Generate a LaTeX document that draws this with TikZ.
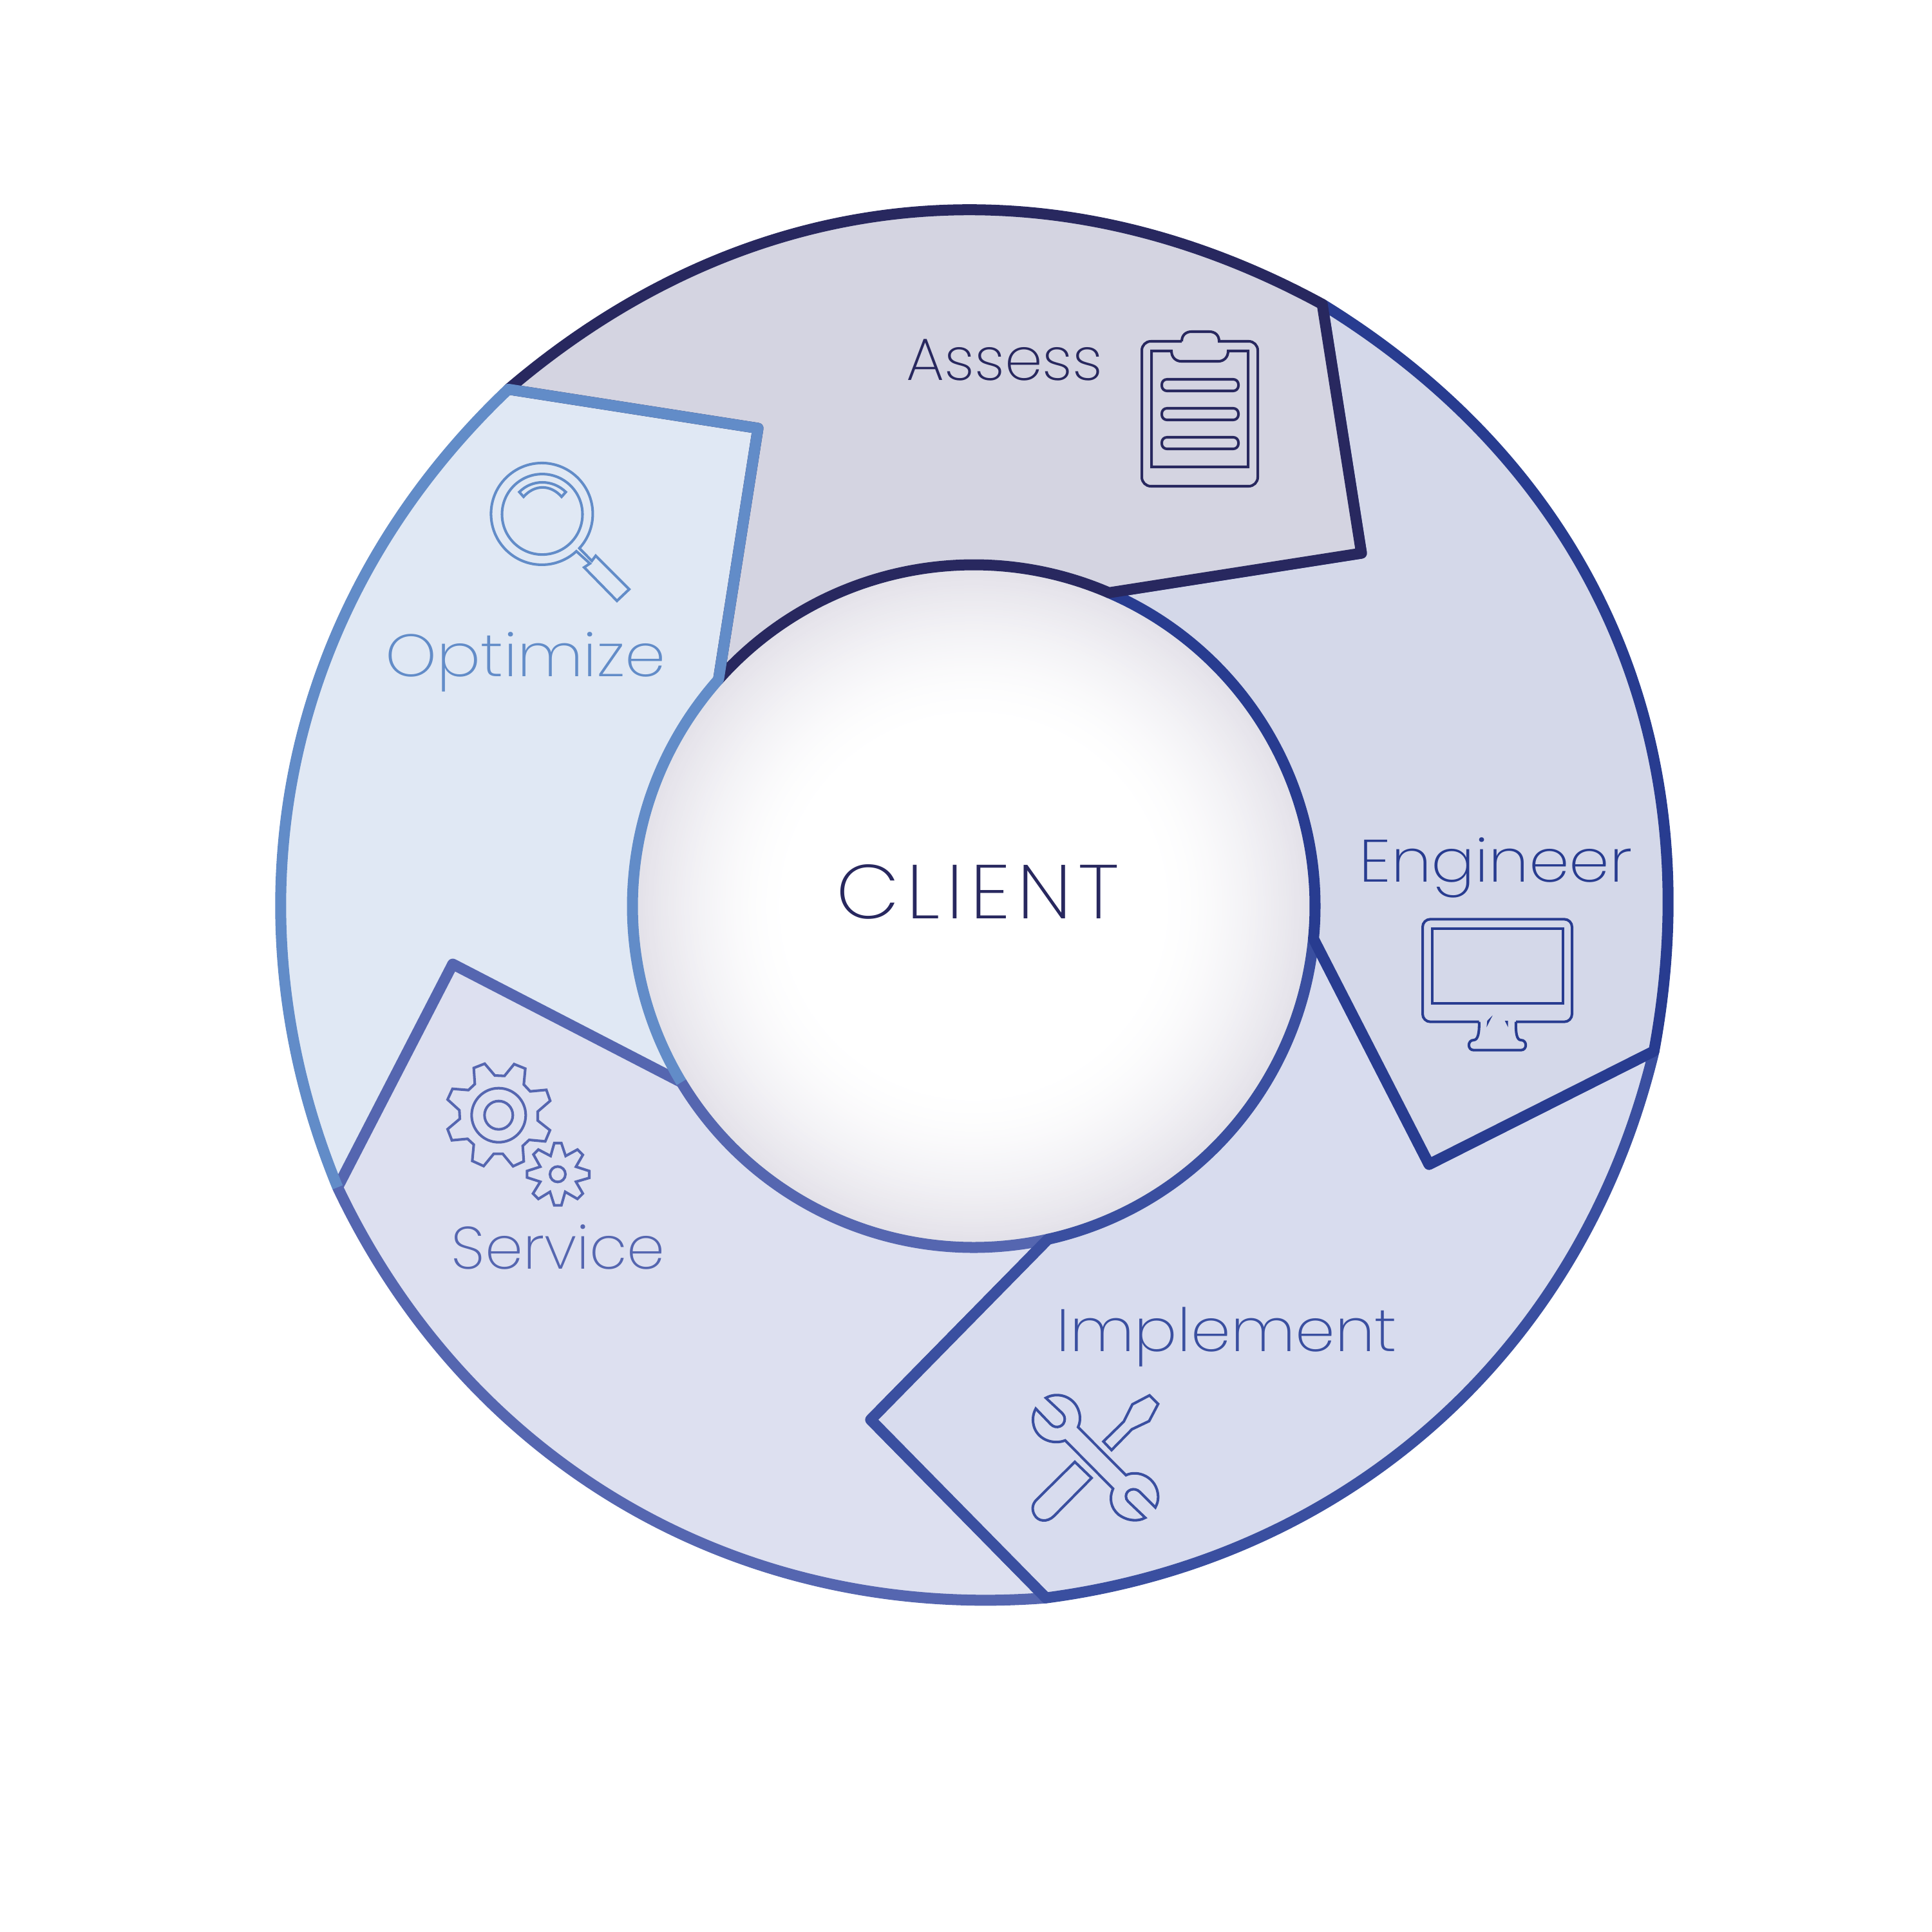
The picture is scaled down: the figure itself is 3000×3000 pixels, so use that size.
\documentclass[tikz,border=0pt]{standalone}
\usepackage{fontspec}
\usetikzlibrary{calc}
\newfontfamily\lightfont{Poppins}[UprightFont=* ExtraLight]
\definecolor{assesscol}{HTML}{28285F}
\definecolor{assessbg}{HTML}{D4D4E1}
\definecolor{engineercol}{HTML}{283C90}
\definecolor{engineerbg}{HTML}{D4D8E9}
\definecolor{implementcol}{HTML}{3A4FA0}
\definecolor{implementbg}{HTML}{D8DCEE}
\definecolor{servicecol}{HTML}{5566B0}
\definecolor{servicebg}{HTML}{DDE0F0}
\definecolor{optimizecol}{HTML}{628CC8}
\definecolor{optimizebg}{HTML}{E0E8F4}
\definecolor{hubedge}{HTML}{E2E0E8}

\begin{document}
\begin{tikzpicture}[
		x=0.01cm,y=-0.01cm,
		segment/.style={line width=4.84pt,line join=round},
		icon/.style={line width=1.15pt,line join=miter},
		lbl/.style 2 args={font=\lightfont\fontsize{#1}{30}\selectfont\addfontfeature{FakeStretch=#2},anchor=base west,inner sep=0pt}
	]
	\useasboundingbox (0,0) rectangle (3000,3000);

	% centre
	\coordinate (hub) at (1512,1407);
	\foreach \r in {530,526,...,290}{
		\pgfmathsetmacro\glow{100*pow((\r-290)/240,1.6)}
		\fill[hubedge!\glow!white] (hub) circle[radius=\r];
	}

	% notch corners
	\coordinate (assessA) at (2114,859);
	\coordinate (engineerA) at (2219,1808);
	\coordinate (implementA) at (1352,2204.5);
	\coordinate (serviceA) at (703,1497);
	\coordinate (optimizeA) at (1177,665);

	% rim points
	\coordinate (optimizeEnd) at ($(hub)+(-132:1080)$);
	\coordinate (assessEnd) at ($(hub)+(-59.93:1080)$);
	\coordinate (engineerEnd) at ($(hub)+(12.03:1080)$);
	\coordinate (implementEnd) at ($(hub)+(84.04:1080)$);
	\coordinate (serviceEnd) at ($(hub)+(156.15:1080)$);

	% optimize fill first
	\fill[optimizebg] (serviceEnd) .. controls +(247.65:476) and +(136.5:476) .. (optimizeEnd)
		-- (optimizeA) -- ($(hub)+(221.6:530)$) arc[start angle=221.6,end angle=148.93,radius=530]
		-- (serviceA) -- cycle;

	% service
	\draw[segment,draw=servicecol,fill=servicebg] (implementEnd) .. controls +(175.54:476) and +(64.65:476) .. (serviceEnd)
		-- (serviceA) -- ($(hub)+(148.93:530)$) arc[start angle=148.93,end angle=77.44,radius=530]
		-- (implementA) -- cycle;
	% implement
	\draw[segment,draw=implementcol,fill=implementbg] (engineerEnd) .. controls +(103.53:476) and +(-7.46:476) .. (implementEnd)
		-- (implementA) -- ($(hub)+(77.44:530)$) arc[start angle=77.44,end angle=5.49,radius=530]
		-- (engineerA) -- cycle;
	% engineer
	\draw[segment,draw=engineercol,fill=engineerbg] (assessEnd) .. controls +(31.57:490) and +(-79.47:490) .. (engineerEnd)
		-- (engineerA) -- ($(hub)+(5.49:530)$) arc[start angle=5.49,end angle=-66.66,radius=530]
		-- (assessA) -- cycle;
	% assess
	\draw[segment,draw=assesscol,fill=assessbg] (optimizeEnd) .. controls +(-40.5:490) and +(-151.43:490) .. (assessEnd)
		-- (assessA) -- ($(hub)+(-66.66:530)$) arc[start angle=-66.66,end angle=-138.4,radius=530]
		-- (optimizeA) -- cycle;
	% optimize stroke on top
	\draw[segment,draw=optimizecol] ($(hub)+(148.93:530)$) arc[start angle=148.93,end angle=221.6,radius=530]
		-- (optimizeA) -- (optimizeEnd) .. controls +(136.5:476) and +(247.65:476) .. (serviceEnd);

	% labels
	\node[lbl={26.4}{1.013},text=assesscol] (assesslbl) at (1407,590) {Assess};
	\node[lbl={26.4}{1.083},text=engineercol] (engineerlbl) at (2110,1369) {Engineer};
	\node[lbl={26.4}{1.066},text=implementcol] (implementlbl) at (1640,2098) {Implement};
	\node[lbl={26.4}{1.018},text=servicecol] (servicelbl) at (700,1970) {Service};
	\node[lbl={26.4}{1.091},text=optimizecol] (optimizelbl) at (598,1050) {Optimize};
	\node[lbl={33.7}{1.08,LetterSpace=8.4},text=assesscol] (clientlbl) at (1298,1426) {CLIENT};

	% clipboard
	\begin{scope}[icon,draw=assesscol]
		\draw (1835,530) .. controls (1835,520) and (1842,515) .. (1850,515) -- (1878,515) .. controls (1886,515) and (1893,520) .. (1893,530) [rounded corners=1.4mm] -- (1953,530) -- (1953,755) -- (1773,755) -- (1773,530) -- (1835,530);
		\draw (1788,545) -- (1819,545) .. controls (1819,555) and (1826,561) .. (1834,561) -- (1892,561) .. controls (1900,561) and (1907,555) .. (1907,545) -- (1938,545) -- (1938,725) -- (1788,725) -- cycle;
		\foreach \y in {589,634,679}
			\draw[rounded corners=0.8mm] (1804,\y) rectangle (1923,\y+18);
	\end{scope}

	% magnifier
	\begin{scope}[icon,draw=optimizecol]
		\draw (895,856) arc[start angle=47.3,end angle=402.5,radius=79] -- (919,871) -- (925,863) -- (977,915) -- (958,933) -- (907,881) -- (916,875) -- cycle;
		\draw (842,798.6) circle[radius=62.5];
		\draw (806.4,764) .. controls (826,744) and (858,744) .. (878.6,764) -- (872,771.4) .. controls (855,752) and (830,752) .. (813,771.4) -- cycle;
	\end{scope}

	% gears
	\begin{scope}[icon,draw=servicecol,shift={(650,1620)},scale=1/3]
		\draw (308,95) -- (355,150) -- (400,152) -- (445,97) -- (497,118) -- (490,192) -- (520,224) -- (595,217) -- (613,268) -- (555,318) -- (555,360) -- (612,405) -- (590,457) -- (515,450) -- (485,478) -- (490,550) -- (440,573) -- (392,515) -- (350,515) -- (303,572) -- (250,548) -- (257,472) -- (228,445) -- (155,452) -- (135,400) -- (192,352) -- (190,312) -- (135,262) -- (158,212) -- (232,218) -- (262,190) -- (257,115) -- cycle;
		\draw (373,335) circle[radius=126];
		\draw (373,335) circle[radius=66];
		\draw (632,465) -- (665,465) -- (685,525) -- (740,495) -- (765,520) -- (733,575) -- (795,595) -- (795,627) -- (733,645) -- (765,700) -- (740,725) -- (683,692) -- (665,755) -- (632,755) -- (612,692) -- (558,725) -- (533,700) -- (567,645) -- (505,625) -- (505,595) -- (567,575) -- (535,518) -- (558,495) -- (615,525) -- cycle;
		\draw (648,610) circle[radius=36];
	\end{scope}

	% tools
	\begin{scope}[icon,draw=implementcol,shift={(1570,2130)},scale=1/3]
		\draw (297,420) -- (375,495) -- (200,672) .. controls (170,702) and (125,700) .. (108,665) .. controls (95,640) and (100,615) .. (118,597) -- cycle;
		\draw (430,325) -- (525,232) -- (565,152) -- (645,110) -- (685,150) -- (643,230) -- (563,268) -- (468,365) -- cycle;
		\draw (312,258) -- (535,482) .. controls (590,455) and (680,490) .. (685,580) .. controls (686,600) and (680,618) .. (672,632) -- (600,560) .. controls (575,535) and (535,550) .. (535,580) .. controls (535,590) and (538,597) .. (545,604) -- (625,680) .. controls (590,700) and (540,695) .. (500,665) .. controls (465,635) and (455,590) .. (475,545) -- (252,320) .. controls (200,340) and (130,320) .. (108,260) .. controls (98,230) and (100,200) .. (115,172) -- (185,245) .. controls (210,270) and (250,255) .. (250,220) .. controls (250,205) and (240,195) .. (235,190) -- (162,122) .. controls (210,95) and (275,110) .. (305,160) .. controls (325,195) and (325,230) .. (312,258) -- cycle;
	\end{scope}

	% monitor
	\begin{scope}[icon,draw=engineercol,shift={(2100,1250)},scale=1/3]
		\draw[rounded corners=1.2mm] (590,1010) -- (327,1010) -- (327,532) -- (1023,532) -- (1023,1010) -- (762,1010);
		\draw (762,1010) .. controls (760,1060) and (765,1095) .. (785,1095) .. controls (815,1095) and (815,1142) .. (785,1142) -- (565,1142) .. controls (535,1142) and (535,1095) .. (565,1095) .. controls (585,1095) and (592,1060) .. (590,1010);
		\draw (372,575) rectangle (980,923);
		\fill[engineercol] (625,1035) -- (628,1005) -- (653,980) -- cycle;
		\fill[engineercol] (710,1005) -- (725,1005) -- (725,1035) -- cycle;
	\end{scope}
\end{tikzpicture}
\end{document}
